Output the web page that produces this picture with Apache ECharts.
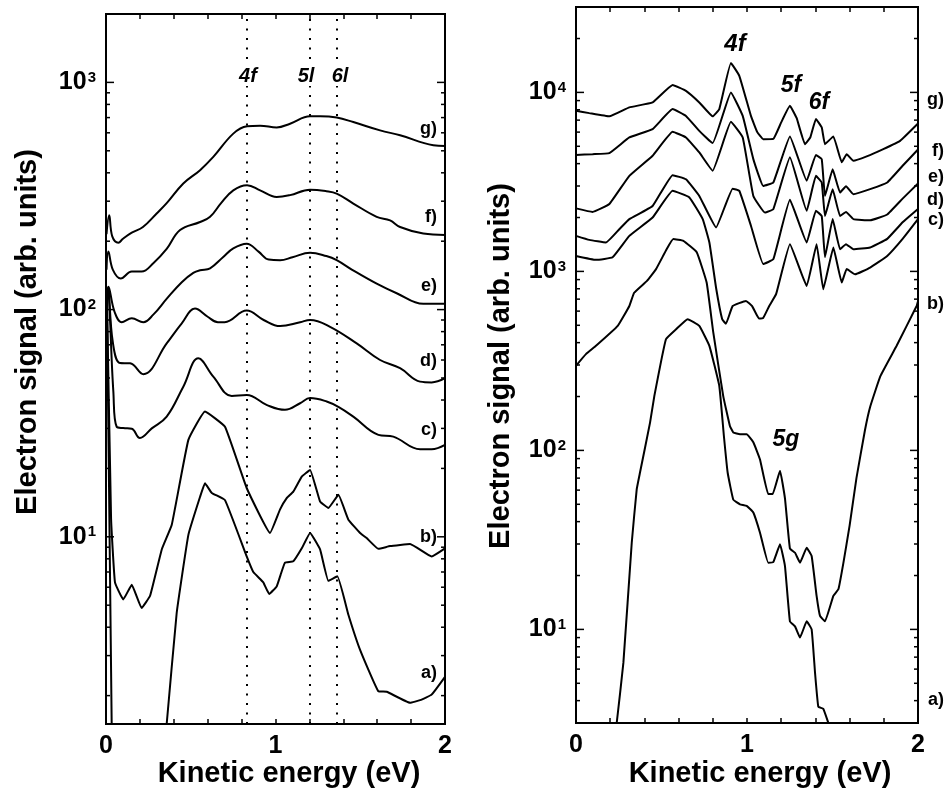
<!DOCTYPE html>
<html>
<head>
<meta charset="utf-8">
<script src="https://cdn.jsdelivr.net/npm/echarts@6/dist/echarts.min.js"></script>
<style>html,body{margin:0;padding:0;background:#fff}#c{width:945px;height:792px}</style>
</head>
<body>
<div id="c"></div>
<script>
// ---------- DATA ----------
// Left panel: kinetic energy (eV) vs electron signal
const leftA = [[0.005,120],[0.034,1.4],[0.2,'-'],[0.352,1.4],[0.358,1.5],[0.417,4.62],[0.486,10.2],[0.555,15.0],[0.584,17.2],[0.624,15.6],[0.702,14.5],[0.83,8.2],[0.869,7.0],[0.928,6.3],[0.963,5.6],[1.007,6.05],[1.03,6.8],[1.056,7.7],[1.105,7.8],[1.155,8.9],[1.204,10.4],[1.263,8.8],[1.312,6.4],[1.365,6.7],[1.43,4.54],[1.499,3.18],[1.607,2.09],[1.656,2.08],[1.794,1.86],[1.853,1.91],[1.921,2.02],[2.0,2.42]];
const leftB = [[0.005,120],[0.03,12],[0.053,6.3],[0.102,5.3],[0.152,6.15],[0.21,4.86],[0.26,5.5],[0.329,8.8],[0.388,11.3],[0.486,26.7],[0.584,35.6],[0.702,30.5],[0.83,16.4],[0.968,10.4],[1.027,13.2],[1.066,14.8],[1.105,15.8],[1.155,18.4],[1.204,19.7],[1.263,14.3],[1.312,13.4],[1.371,15.3],[1.43,11.9],[1.499,10.4],[1.538,9.87],[1.607,8.85],[1.676,9.1],[1.794,9.3],[1.921,8.2],[2.0,8.9]];
const leftC = [[0.003,100],[0.01,118],[0.043,44],[0.063,30.5],[0.102,30.1],[0.152,29.9],[0.2,27.2],[0.27,30],[0.358,33.8],[0.456,45.8],[0.545,61],[0.633,50.7],[0.742,41.7],[0.83,42.1],[0.95,38],[1.056,36.2],[1.145,38.7],[1.204,40.8],[1.302,39.4],[1.371,37.3],[1.459,33.8],[1.607,28.1],[1.695,27.6],[1.853,24.3],[1.921,24.3],[2.0,25.4]];
const leftD = [[0.003,100],[0.012,125],[0.04,72],[0.083,58.2],[0.142,58],[0.22,52],[0.358,71],[0.447,87],[0.525,101],[0.6,93],[0.66,88],[0.7,88],[0.83,99],[0.93,90],[1.027,84.6],[1.145,88],[1.204,90],[1.322,84],[1.479,71],[1.617,60],[1.735,55.2],[1.853,48.2],[1.921,47.8],[2.0,49.9]];
const leftE = [[0.003,105],[0.014,126],[0.05,98],[0.093,88],[0.152,91.5],[0.22,88],[0.279,95],[0.36,112],[0.447,132],[0.515,145],[0.555,149],[0.614,152],[0.69,170],[0.751,186],[0.83,195],[0.9,180],[0.96,166],[1.027,165],[1.1,170],[1.204,178],[1.3,172],[1.361,165],[1.45,150],[1.597,130],[1.715,118],[1.872,106],[2.0,106]];
const leftF = [[0.003,150],[0.014,180],[0.04,150],[0.087,137],[0.152,147],[0.21,147],[0.279,160],[0.358,185],[0.437,224],[0.555,243],[0.614,256],[0.68,295],[0.751,335],[0.832,353],[0.909,335],[1.007,313],[1.086,319],[1.204,337],[1.3,332],[1.361,324],[1.459,293],[1.597,256],[1.676,247],[1.735,231],[1.872,216],[2.0,213]];
const leftG = [[0.003,215],[0.019,260],[0.037,210],[0.073,197],[0.1,205],[0.152,218],[0.218,231],[0.299,265],[0.358,294],[0.456,359],[0.555,411],[0.633,470],[0.751,595],[0.832,641],[0.909,645],[1.007,633],[1.086,658],[1.204,709],[1.263,709],[1.361,700],[1.459,669],[1.617,615],[1.735,585],[1.931,529],[2.0,525]];

// Right panel
const rightA = [[0.23,2.8],[0.238,3.0],[0.277,6.5],[0.326,30.5],[0.355,60.6],[0.374,75],[0.433,143],[0.458,201],[0.526,418],[0.585,475],[0.653,541],[0.721,496],[0.78,384],[0.838,229],[0.865,120],[0.887,75],[0.92,53],[0.959,50],[0.998,49],[1.037,45],[1.076,34.7],[1.124,23.6],[1.154,23.8],[1.193,29.9],[1.222,22.6],[1.251,11.1],[1.281,10.4],[1.31,9.0],[1.349,11.1],[1.378,10],[1.398,5.7],[1.417,3.7],[1.446,3.6],[1.476,3.0],[1.49,2.8]];
const rightB = [[0,297],[0.058,345],[0.117,384],[0.244,496],[0.312,641],[0.34,760],[0.415,885],[0.468,1030],[0.53,1330],[0.569,1515],[0.628,1480],[0.706,1280],[0.764,867],[0.803,455],[0.861,201],[0.9,137],[0.92,126],[0.959,123],[0.998,123],[1.037,111],[1.076,89],[1.124,57],[1.15,57],[1.193,77],[1.222,54],[1.251,28.3],[1.281,26.8],[1.31,23.6],[1.349,28.6],[1.378,25.7],[1.407,15.4],[1.427,11.9],[1.456,11.1],[1.505,15.4],[1.535,16.8],[1.564,23.6],[1.6,38],[1.64,70],[1.69,130],[1.72,175],[1.78,260],[1.875,384],[1.992,641],[2.0,680]];
const rightC = [[0,1220],[0.117,1160],[0.214,1200],[0.312,1580],[0.448,2000],[0.565,2820],[0.663,2590],[0.741,1960],[0.78,1450],[0.82,800],[0.855,540],[0.877,510],[0.916,641],[0.994,684],[1.03,640],[1.07,545],[1.095,550],[1.13,641],[1.17,746],[1.251,1420],[1.349,830],[1.407,1420],[1.446,795],[1.505,1360],[1.554,867],[1.583,1030],[1.632,963],[1.72,1050],[1.82,1220],[1.91,1520],[2.0,1960]];
const rightD = [[0,1580],[0.078,1500],[0.175,1450],[0.253,1720],[0.312,1960],[0.448,2320],[0.565,3450],[0.643,3270],[0.721,2640],[0.819,1760],[0.916,2900],[0.955,2820],[1.023,1800],[1.095,1100],[1.154,1170],[1.251,2510],[1.349,1450],[1.403,2180],[1.437,2040],[1.456,1200],[1.501,1960],[1.544,1330],[1.579,1420],[1.622,1330],[1.72,1360],[1.82,1520],[1.91,1880],[2.0,2230]];
const rightE = [[0,2250],[0.097,2150],[0.195,2380],[0.312,3420],[0.448,4430],[0.565,6030],[0.643,5600],[0.721,4620],[0.799,3650],[0.906,6850],[0.975,5600],[1.037,2640],[1.105,2130],[1.154,2230],[1.251,4340],[1.349,2180],[1.403,3420],[1.437,3140],[1.456,2040],[1.501,2880],[1.544,2040],[1.579,2150],[1.622,1960],[1.72,1930],[1.82,2080],[1.91,2550],[2.0,3100]];
const rightF = [[0,4470],[0.097,4520],[0.195,4580],[0.312,5600],[0.448,6240],[0.565,8070],[0.643,7390],[0.721,6100],[0.799,5210],[0.906,10000],[0.975,7390],[1.037,4240],[1.095,3000],[1.154,3140],[1.251,5680],[1.349,3210],[1.403,4470],[1.437,4240],[1.456,2640],[1.501,3720],[1.544,2760],[1.579,2990],[1.622,2700],[1.72,2880],[1.82,3140],[1.91,3890],[2.0,4800]];
const rightG = [[0,7890],[0.078,7660],[0.195,7350],[0.312,8250],[0.448,8790],[0.565,10990],[0.643,10200],[0.721,8790],[0.799,7350],[0.838,8070],[0.906,14580],[0.955,12380],[1.023,7390],[1.06,6000],[1.095,5480],[1.154,5500],[1.2,6800],[1.251,8410],[1.29,7200],[1.339,5140],[1.37,5600],[1.403,7100],[1.437,6370],[1.456,5140],[1.505,5680],[1.554,4070],[1.583,4520],[1.622,4150],[1.7,4390],[1.797,4820],[1.895,5360],[2.0,6700]];

// Axes / ticks
const xTickValues = [0, 1, 2];
const leftYRange = [1.5, 2000];
const rightYRange = [3, 30000];
const decades = [1, 10, 100, 1000, 10000];
const minorMultipliers = [2, 3, 4, 5, 6, 7, 8, 9];

// Annotations
const leftMarkX = [0.83, 1.2, 1.365];
const leftMarkText = ['4f', '5l', '6l'];
const seriesTags = ['a)', 'b)', 'c)', 'd)', 'e)', 'f)', 'g)'];

// ---------- CHART ----------
const FF = '"Liberation Sans", Arial, Helvetica, sans-serif';
const chart = echarts.init(document.getElementById('c'), null, {renderer: 'canvas'});

function supLabel(v) {
  const e = Math.log10(v);
  if (Math.abs(e - Math.round(e)) > 1e-6) return '';
  return '{b|10}{s|' + Math.round(e) + '}';
}
const yLabelRich = {
  b: {fontSize: 25, fontWeight: 'bold', fontFamily: FF, color: '#000'},
  s: {fontSize: 15, fontWeight: 'bold', fontFamily: FF, color: '#000', verticalAlign: 'top', padding: [0, 0, 0, 1]}
};
function xAxisCfg(grid, top) {
  return {
    gridIndex: grid, type: 'value', min: 0, max: 2, interval: 0.2,
    position: top ? 'top' : 'bottom',
    axisLine: {show: false},
    axisTick: {show: true, inside: true, length: 5, lineStyle: {color: '#000', width: 1.5}},
    splitLine: {show: false},
    axisLabel: top ? {show: false} : {
      show: true, margin: 10, color: '#000', fontSize: 25, fontWeight: 'bold', fontFamily: FF,
      formatter: v => xTickValues.some(t => Math.abs(t - v) < 1e-6) ? String(Math.round(v)) : ''
    }
  };
}
function yAxisCfg(grid, range) {
  return {
    gridIndex: grid, type: 'log', logBase: 10, min: range[0], max: range[1],
    axisLine: {show: false}, axisTick: {show: false}, splitLine: {show: false}, minorTick: {show: false},
    axisLabel: {show: true, margin: 10, formatter: supLabel, rich: yLabelRich}
  };
}
function tickData(range) {
  const d = [];
  decades.forEach(dec => {
    if (dec > range[0] && dec < range[1]) d.push([0, dec, 8]);
    minorMultipliers.forEach(m => {
      const v = dec * m;
      if (v > range[0] * 1.0001 && v < range[1] * 0.9999) d.push([0, v, 4]);
    });
  });
  return d;
}
function tickSeries(xi, yi, range) {
  return {
    type: 'custom', xAxisIndex: xi, yAxisIndex: yi, silent: true, clip: false, z: 5,
    data: tickData(range),
    renderItem: function (params, api) {
      const cs = params.coordSys;
      const y = api.coord([0, api.value(1)])[1];
      const len = api.value(2);
      const st = {stroke: '#000', lineWidth: 1.5};
      return {type: 'group', children: [
        {type: 'line', shape: {x1: cs.x, y1: y, x2: cs.x + len, y2: y}, style: st},
        {type: 'line', shape: {x1: cs.x + cs.width - len, y1: y, x2: cs.x + cs.width, y2: y}, style: st}
      ]};
    }
  };
}
function lineSeries(data, xi, yi, smooth, extra) {
  return Object.assign({
    type: 'line', data: data, xAxisIndex: xi, yAxisIndex: yi, showSymbol: false, symbol: 'none',
    smooth: smooth, connectNulls: false, clip: true, silent: true,
    lineStyle: {color: '#000', width: 2}, z: 3
  }, extra || {});
}

const leftSets = [leftA, leftB, leftC, leftD, leftE, leftF, leftG];
const rightSets = [rightA, rightB, rightC, rightD, rightE, rightF, rightG];

const series = [];
leftSets.forEach((d, i) => {
  const extra = i === 6 ? {
    markLine: {
      silent: true, symbol: 'none', label: {show: false},
      lineStyle: {color: '#000', width: 2, type: [2, 7.5]},
      data: leftMarkX.map(x => ({xAxis: x}))
    }
  } : null;
  series.push(lineSeries(d, 0, 0, i >= 2 ? 0.4 : 0.1, extra));
});
rightSets.forEach(d => series.push(lineSeries(d, 2, 1, 0.1)));
series.push(tickSeries(0, 0, leftYRange));
series.push(tickSeries(2, 1, rightYRange));

// Label positions (pixels)
const leftTagY = [673, 537, 430, 361, 286, 217, 129];
const rightTagY = [700, 304, 220, 200, 177, 151, 100];
const leftMarkPx = [[248, 76], [306, 76], [340, 76]];

function txt(text, x, y, opts) {
  const o = opts || {};
  return {
    type: 'text', x: x, y: y, rotation: o.rotation || 0, z: 50,
    style: {
      text: text, fill: '#000',
      font: o.font || ('bold 18px ' + FF),
      textAlign: o.align || 'center', textVerticalAlign: 'middle',
      align: o.align || 'center', verticalAlign: 'middle',
      backgroundColor: o.bg, padding: o.bg ? [0, 1] : 0
    }
  };
}
const graphics = [
  txt('Electron signal (arb. units)', 28, 332, {rotation: Math.PI / 2, font: 'bold 29px ' + FF}),
  txt('Electron signal (arb. units)', 501, 366, {rotation: Math.PI / 2, font: 'bold 29px ' + FF}),
  txt('Kinetic energy (eV)', 289, 774, {font: 'bold 29px ' + FF}),
  txt('Kinetic energy (eV)', 760, 774, {font: 'bold 29px ' + FF}),
  txt('4f', 735, 44, {font: 'italic bold 24px ' + FF}),
  txt('5f', 791, 86, {font: 'italic bold 23px ' + FF}),
  txt('6f', 819, 103, {font: 'italic bold 23px ' + FF}),
  txt('5g', 786, 440, {font: 'italic bold 23px ' + FF})
];
leftMarkText.forEach((t, i) => graphics.push(txt(t, leftMarkPx[i][0], leftMarkPx[i][1], {font: 'italic bold 20px ' + FF, bg: '#fff'})));
seriesTags.forEach((t, i) => {
  graphics.push(txt(t, 437, leftTagY[i], {align: 'right'}));
  graphics.push(txt(t, 944, rightTagY[i], {align: 'right'}));
});

chart.setOption({
  animation: false,
  backgroundColor: '#fff',
  grid: [
    {left: 106, top: 14, width: 339, height: 710, show: true, borderColor: '#000', borderWidth: 2, backgroundColor: 'transparent'},
    {left: 576, top: 7, width: 342, height: 716, show: true, borderColor: '#000', borderWidth: 2, backgroundColor: 'transparent'}
  ],
  xAxis: [xAxisCfg(0, false), xAxisCfg(0, true), xAxisCfg(1, false), xAxisCfg(1, true)],
  yAxis: [yAxisCfg(0, leftYRange), yAxisCfg(1, rightYRange)],
  series: series,
  graphic: graphics
});
</script>
</body>
</html>
